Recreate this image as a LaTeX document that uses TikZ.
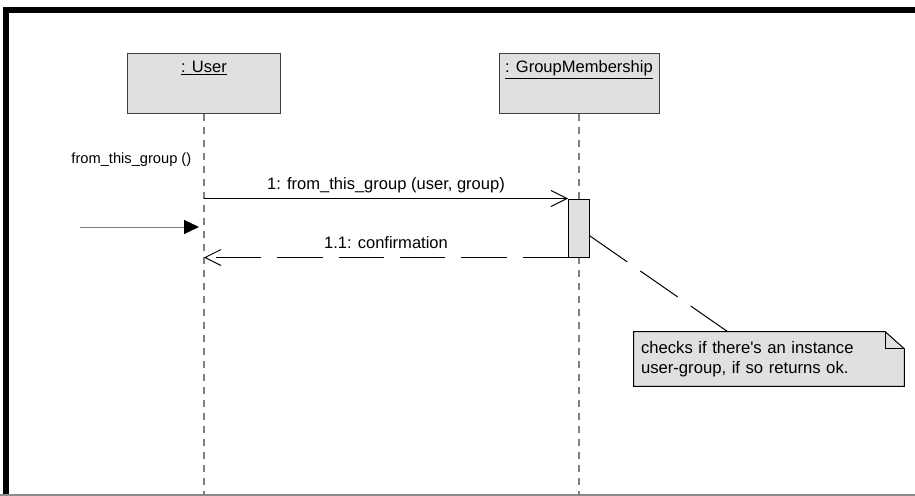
\documentclass[tikz,border=0pt]{standalone}
\usepackage{fontspec}
\setmainfont{Liberation Sans}
\usetikzlibrary{arrows.meta,calc,backgrounds}

\begin{document}
\begin{tikzpicture}[
    x=0.75pt, y=-0.75pt,
    object/.style={draw=black!75, fill=black!12, line width=0.75pt, minimum height=45pt, inner sep=0pt},
    objname/.style={anchor=base, font=\fontsize{12.4}{15}\selectfont},
    lifeline/.style={draw=black!50, line width=0.9pt, dash pattern=on 5.25pt off 4.5pt},
    activation/.style={draw=black, fill=black!12, line width=0.75pt, minimum width=15.75pt, minimum height=43.5pt, inner sep=0pt},
    msg/.style={line width=0.75pt, -{Straight Barb[length=12pt, width=12pt]}},
    reply/.style={msg, dash pattern=on 34pt off 12pt},
    msglabel/.style={anchor=base, yshift=6.75pt, font=\fontsize{12.4}{15}\selectfont},
    notebox/.style={draw=black, fill=black!12, line width=0.75pt},
  ]
  \useasboundingbox (0,0) rectangle (915,496);

  % frame
  \draw[line width=4.5pt] (915,10) -- (6,10) -- (6,496);
  \draw[black!45, line width=1pt] (0,495) -- (915,495);

  \node[object, minimum width=114.75pt] (user) at (204,83) {};
  \node[object, minimum width=120pt] (gm) at (579,83) {};
  \node[objname] (userlbl) at ([yshift=-15pt]user.north) {\underline{: User}};
  \node[objname] (gmlbl) at ([yshift=-15pt]gm.north) {\underline{: GroupMembership}};

  \coordinate (bottom) at (0,495);
  \draw[lifeline] (user.south) -- (user.south |- bottom);
  \draw[lifeline] (gm.south) -- (gm.south |- bottom);

  \node[activation] (act) at (gm.south |- 0,228) {};

  % incoming call
  \node[anchor=base east, font=\fontsize{11}{13}\selectfont] (calllbl) at (196,163) {from\_this\_group ()};
  \coordinate (found) at (80,227);
  \coordinate (foundend) at (199,227);
  \draw[black!50, line width=0.75pt, -{Triangle[length=11.25pt, width=10.5pt, color=black, fill=black]}] (found) -- (foundend);

  \draw[msg] (user.south |- act.north) -- node[midway, msglabel] (m1lbl) {1: from\_this\_group (user, group)} (act.north west);
  \draw[reply] (act.south west) -- node[midway, msglabel] (m2lbl) {1.1: confirmation} (user.south |- act.south);

  % note
  \node[align=left, text width=192pt, inner xsep=5.25pt, minimum height=40.5pt, font=\fontsize{12.5}{15}\selectfont] (note) at (769,359) {checks if there\textquotesingle s an instance\\user-group, if so returns ok.};
  \begin{scope}[on background layer]
    \draw[notebox] (note.south west) -- (note.north west) -- ([xshift=-14.25pt]note.north east) -- ([yshift=-12.75pt]note.north east) -- (note.south east) -- cycle;
    \draw[line width=0.75pt] ([xshift=-14.25pt]note.north east) |- ([yshift=-12.75pt]note.north east);
  \end{scope}
  \draw[line width=0.75pt, dash pattern=on 34pt off 12pt] ($(act.east)+(0,8)$) -- ($(note.north west)+(94,0)$);
\end{tikzpicture}
\end{document}
